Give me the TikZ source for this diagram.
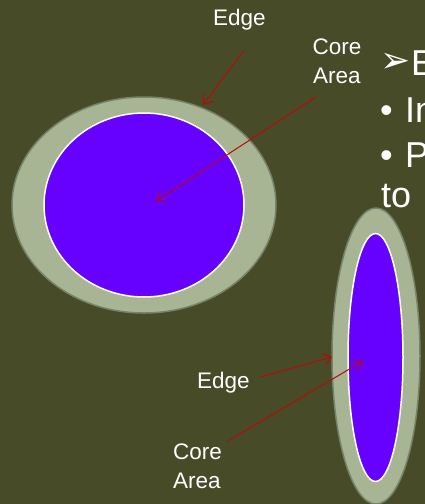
\documentclass[tikz,border=0pt]{standalone}
\usepackage{fontspec}
\setmainfont{Liberation Sans}
\newfontfamily\symfont{DejaVu Sans}
\usetikzlibrary{shapes.geometric,arrows.meta}
\definecolor{bgolive}{RGB}{71,75,40}
\definecolor{rimfill}{RGB}{167,181,148}
\definecolor{rimline}{RGB}{118,130,108}
\definecolor{corefill}{RGB}{102,0,255}
\definecolor{arrowred}{RGB}{185,10,10}
\tikzset{
  rim/.style={ellipse, inner sep=0pt, fill=rimfill, draw=rimline, line width=1.5pt},
  core/.style={ellipse, inner sep=0pt, fill=corefill, draw=white, line width=1.5pt},
  lbl/.style={text=white, inner sep=0pt, font=\fontsize{22.5}{29}\selectfont},
  big/.style={text=white, inner sep=0pt, anchor=base west, font=\fontsize{36}{43}\selectfont},
  redarrow/.style={draw=arrowred, line width=1pt, -{Straight Barb[length=8pt,width=12pt]}}
}
\begin{document}
\begin{tikzpicture}[x=1pt,y=-1pt]
\useasboundingbox (0,0) rectangle (425,504);
\fill[bgolive] (0,0) rectangle (425,504);
% big ellipse
\node[rim, minimum width=264, minimum height=216] (bigrim) at (144,205) {};
\node[core, minimum width=200, minimum height=184] (bigcore) at (144,205) {};
% small ellipse
\node[rim, minimum width=88, minimum height=296] (smallrim) at (376,356) {};
\node[core, minimum width=55, minimum height=248] (smallcore) at (375.5,357.5) {};
% right side text
\node[text=white, inner sep=0pt, anchor=center, font=\symfont\fontsize{36}{40}\selectfont] (barrow) at (396,63) {➢};
\node[big] (t1) at (411,75) {E};
\node[big] (b2) at (380,122) {•};
\node[big] (t2) at (405,122) {In};
\node[big] (b3) at (380,167) {•};
\node[big] (t3) at (405,167) {P};
\node[big] (t4) at (381,207) {to};
% labels
\node[lbl, anchor=base west] (edgetop) at (213,25) {Edge};
\node[lbl, align=center, anchor=base] (coretop) at (337,83) {Core\\Area};
\node[lbl, anchor=base west] (edgelow) at (197,388) {Edge};
\node[lbl, align=left, anchor=base west] (corelow) at (173,488) {Core\\Area};
% arrow coordinates
\coordinate (a1s) at (244,50);
\coordinate (a1e) at (203,105);
\coordinate (a2s) at (316,97);
\coordinate (a2e) at (156,201);
\coordinate (a3s) at (260,377);
\coordinate (a3e) at (332,357);
\coordinate (a4s) at (228,441);
\coordinate (a4e) at (363,361);
\draw[redarrow] (a1s) -- (a1e);
\draw[redarrow] (a2s) -- (a2e);
\draw[redarrow] (a3s) -- (a3e);
\draw[redarrow] (a4s) -- (a4e);
\end{tikzpicture}
\end{document}
